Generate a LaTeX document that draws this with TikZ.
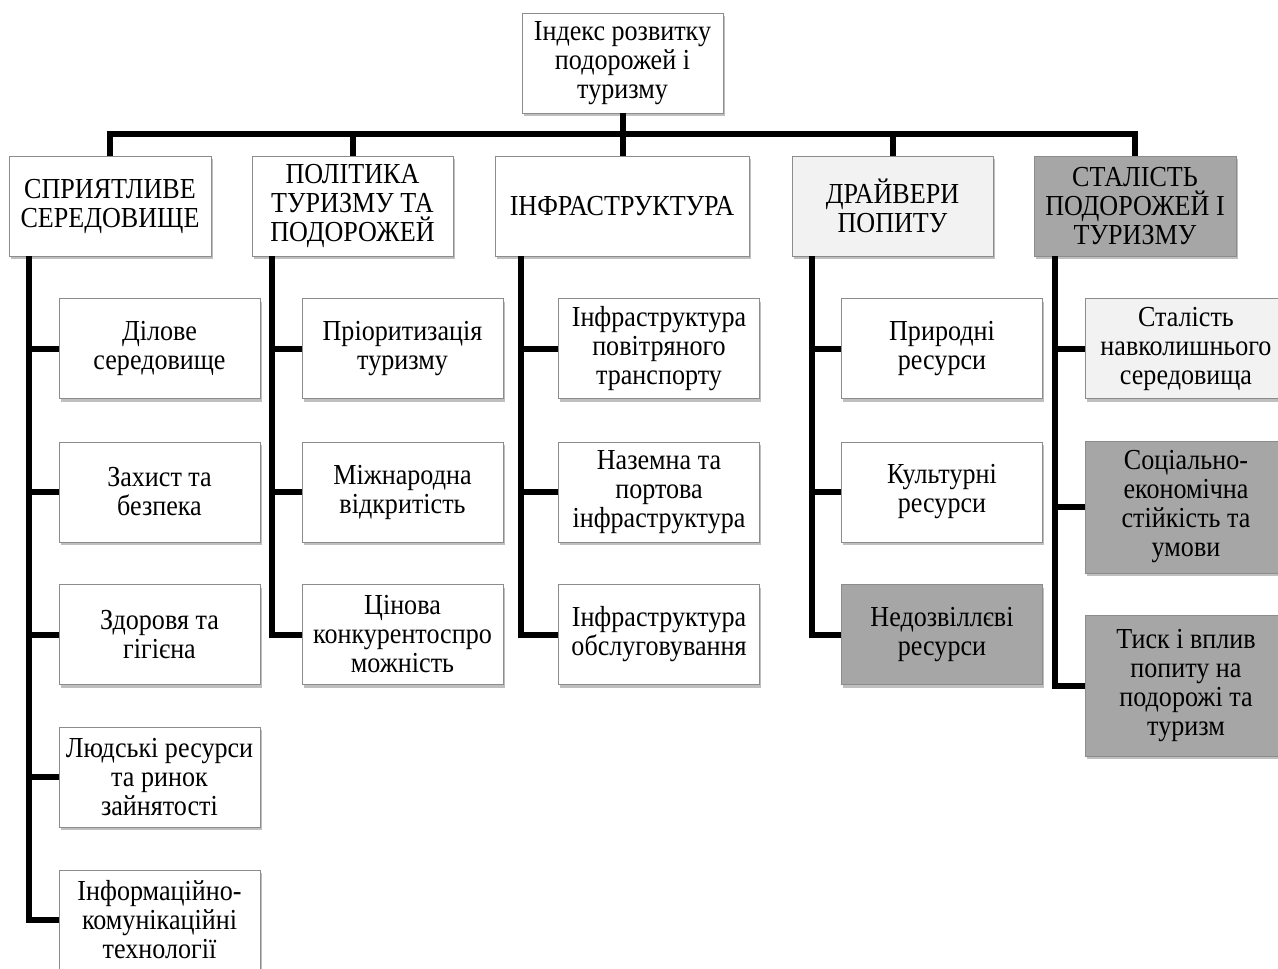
\documentclass[tikz,border=0pt]{standalone}
\usepackage{fontspec}
\setmainfont[FakeStretch=0.9]{Liberation Serif}
\usetikzlibrary{shadows}
\definecolor{boxline}{HTML}{8C8C8C}
\definecolor{fillA}{HTML}{F2F2F2}
\definecolor{fillB}{HTML}{A6A6A6}
\begin{document}
\begin{tikzpicture}[x=1pt,y=-1pt,
  box/.style={draw=boxline, line width=0.8pt, fill=white, align=center, inner sep=0pt,
    font=\fontsize{29}{29}\selectfont,
    minimum width=201pt, minimum height=100pt,
    drop shadow={shadow xshift=1.5pt, shadow yshift=-3pt, opacity=0.25, fill=black}},
  lightbox/.style={box, fill=fillA},
  darkbox/.style={box, fill=fillB},
  conn/.style={line width=6pt, draw=black}]
\clip (0,0) rectangle (1278,969);
\fill[white] (0,0) rectangle (1278,969);

% top
\node[box] (top) at (622.5,63) {Індекс розвитку\\подорожей і\\туризму};

% categories
\node[box, minimum width=202pt] (c1) at (110,206) {СПРИЯТЛИВЕ\\СЕРЕДОВИЩЕ};
\node[box] (c2) at (352.5,206) {ПОЛІТИКА\\ТУРИЗМУ ТА\\ПОДОРОЖЕЙ};
\node[box, minimum width=254pt] (c3) at (622,206) {ІНФРАСТРУКТУРА};
\node[lightbox] (c4) at (892.5,206) {ДРАЙВЕРИ\\ПОПИТУ};
\node[darkbox, minimum width=202pt] (c5) at (1135,206) {СТАЛІСТЬ\\ПОДОРОЖЕЙ І\\ТУРИЗМУ};

% column 1
\node[box] (k11) at (159.5,348.5) {Ділове\\середовище};
\node[box] (k12) at (159.5,492) {Захист та\\безпека};
\node[box] (k13) at (159.5,634.5) {Здоровя та\\гігієна};
\node[box] (k14) at (159.5,777) {Людські ресурси\\та ринок\\зайнятості};
\node[box] (k15) at (159.5,920) {Інформаційно-\\комунікаційні\\технології};

% column 2
\node[box] (k21) at (402.5,348.5) {Пріоритизація\\туризму};
\node[box] (k22) at (402.5,492) {Міжнародна\\відкритість};
\node[box] (k23) at (402.5,634.5) {Цінова\\конкурентоспро\\можність};

% column 3
\node[box] (k31) at (659,348.5) {Інфраструктура\\повітряного\\транспорту};
\node[box] (k32) at (659,492) {Наземна та\\портова\\інфраструктура};
\node[box] (k33) at (659,634.5) {Інфраструктура\\обслуговування};

% column 4
\node[box] (k41) at (942,348.5) {Природні\\ресурси};
\node[box] (k42) at (942,492) {Культурні\\ресурси};
\node[darkbox] (k43) at (942,634.5) {Недозвіллєві\\ресурси};

% column 5
\node[lightbox, minimum width=202pt] (k51) at (1186,348.5) {Сталість\\навколишнього\\середовища};
\node[darkbox, minimum width=202pt, minimum height=132pt] (k52) at (1186,507) {Соціально-\\економічна\\стійкість та\\умови};
\node[darkbox, minimum width=202pt, minimum height=141pt] (k53) at (1186,685.5) {Тиск і вплив\\попиту на\\подорожі та\\туризм};

% connectors: top level
\coordinate (bar) at (0,134);
\draw[conn] (c1.north) -- (c1.north |- bar) -- (c5.north |- bar) -- (c5.north);
\draw[conn] (top.south) -- (top.south |- c3.north);
\draw[conn] (c2.north) -- (c2.north |- bar);
\draw[conn] (c4.north) -- (c4.north |- bar);

% branches
\coordinate (b1) at (29,256);
\coordinate (b2) at (272,256);
\coordinate (b3) at (521,256);
\coordinate (b4) at (812,256);
\coordinate (b5) at (1055,256);

\draw[conn] (b1) |- (k15.west);
\foreach \k in {k11,k12,k13,k14} \draw[conn] (\k.west) -- (\k.west -| b1);

\draw[conn] (b2) |- (k23.west);
\foreach \k in {k21,k22} \draw[conn] (\k.west) -- (\k.west -| b2);

\draw[conn] (b3) |- (k33.west);
\foreach \k in {k31,k32} \draw[conn] (\k.west) -- (\k.west -| b3);

\draw[conn] (b4) |- (k43.west);
\foreach \k in {k41,k42} \draw[conn] (\k.west) -- (\k.west -| b4);

\draw[conn] (b5) |- (k53.west);
\foreach \k in {k51,k52} \draw[conn] (\k.west) -- (\k.west -| b5);
\end{tikzpicture}
\end{document}
